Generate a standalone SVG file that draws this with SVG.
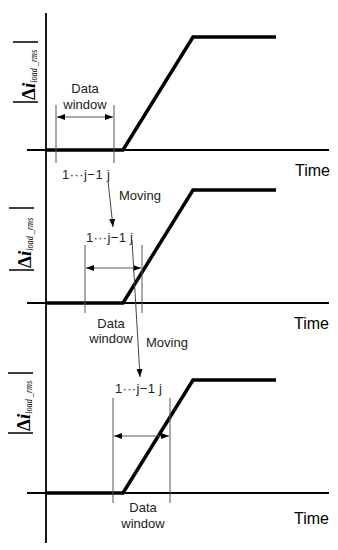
<svg xmlns="http://www.w3.org/2000/svg" width="338" height="550" viewBox="0 0 338 550">
<style>
.bg{fill:#fff}
.axis{stroke:#000;stroke-width:1.8;fill:none}
.sig{stroke:#000;stroke-width:3.5;fill:none;stroke-linejoin:miter}
.win{stroke:#555;stroke-width:1;fill:none}
.dim{stroke:#555;stroke-width:1;fill:none;marker-start:url(#ah);marker-end:url(#ah)}
.mv{stroke:#444;stroke-width:1;fill:none;marker-end:url(#ah)}
.lbl{font-family:"Liberation Sans",Arial,sans-serif;font-size:13px;fill:#222}
.time{font-family:"Liberation Sans",Arial,sans-serif;font-size:16px;fill:#000}
.ylab{font-family:"Liberation Serif","Times New Roman",serif;fill:#000}
.bar{stroke:#000;stroke-width:1.5}
</style>
<defs>
<marker id="ah" markerUnits="userSpaceOnUse" markerWidth="9" markerHeight="7" refX="8" refY="3" orient="auto-start-reverse">
<path d="M0,0 L8,3 L0,6 z" fill="#000"/>
</marker>
</defs>
<rect class="bg" width="338" height="550"/>
<g id="y-axis">
<line class="axis" x1="46" y1="13" x2="46" y2="543"/>
</g>
<g id="panel1">
<line class="axis" x1="27" y1="150" x2="329" y2="150"/>
<polyline class="sig" points="46,150 123,150 193,37 276,37"/>
<text class="time" x="295" y="176">Time</text>
<g transform="translate(35,102) rotate(-90)">
<line class="bar" x1="0" y1="-22" x2="0" y2="3"/>
<line class="bar" x1="60" y1="-22" x2="60" y2="3"/>
<text class="ylab" x="2" y="0"><tspan font-size="19" font-weight="bold">Δ</tspan><tspan font-size="19" font-weight="bold" font-style="italic">i</tspan><tspan font-size="10" font-style="italic" dy="2" textLength="33" lengthAdjust="spacingAndGlyphs">load _rms</tspan></text>
</g>
</g>
<g id="window1">
<line class="win" x1="56" y1="105" x2="56" y2="163"/>
<line class="win" x1="114" y1="105" x2="114" y2="163"/>
<line class="dim" x1="57" y1="117" x2="113" y2="117"/>
<text class="lbl" x="85" y="93" text-anchor="middle">Data</text>
<text class="lbl" x="85" y="109" text-anchor="middle">window</text>
<text class="lbl" x="62" y="179" textLength="48">1···j−1 j</text>
</g>
<g id="panel2">
<line class="axis" x1="27" y1="303" x2="329" y2="303"/>
<polyline class="sig" points="46,303 123,303 193,190 276,190"/>
<text class="time" x="294" y="329">Time</text>
<g transform="translate(31,270) rotate(-90)">
<line class="bar" x1="0" y1="-22" x2="0" y2="3"/>
<line class="bar" x1="62" y1="-22" x2="62" y2="3"/>
<text class="ylab" x="2" y="0"><tspan font-size="19" font-weight="bold">Δ</tspan><tspan font-size="19" font-weight="bold" font-style="italic">i</tspan><tspan font-size="10" font-style="italic" dy="2" textLength="33" lengthAdjust="spacingAndGlyphs">load _rms</tspan></text>
</g>
</g>
<g id="window2">
<line class="win" x1="85" y1="245" x2="85" y2="313"/>
<line class="win" x1="142" y1="245" x2="142" y2="313"/>
<line class="dim" x1="86" y1="268" x2="141" y2="268"/>
<text class="lbl" x="111" y="328" text-anchor="middle">Data</text>
<text class="lbl" x="111" y="343" text-anchor="middle">window</text>
<text class="lbl" x="86" y="242" textLength="47">1···j−1 j</text>
</g>
<g id="panel3">
<line class="axis" x1="27" y1="493" x2="329" y2="493"/>
<polyline class="sig" points="46,493 123,493 193,380 276,380"/>
<text class="time" x="294" y="524">Time</text>
<g transform="translate(30,433) rotate(-90)">
<line class="bar" x1="0" y1="-22" x2="0" y2="3"/>
<line class="bar" x1="60" y1="-22" x2="60" y2="3"/>
<text class="ylab" x="2" y="0"><tspan font-size="19" font-weight="bold">Δ</tspan><tspan font-size="19" font-weight="bold" font-style="italic">i</tspan><tspan font-size="10" font-style="italic" dy="2" textLength="33" lengthAdjust="spacingAndGlyphs">load _rms</tspan></text>
</g>
</g>
<g id="window3">
<line class="win" x1="113" y1="398" x2="113" y2="503"/>
<line class="win" x1="170" y1="398" x2="170" y2="503"/>
<line class="dim" x1="114" y1="436" x2="169" y2="436"/>
<text class="lbl" x="143" y="512" text-anchor="middle">Data</text>
<text class="lbl" x="143" y="528" text-anchor="middle">window</text>
<text class="lbl" x="115" y="393" textLength="47">1···j−1 j</text>
</g>
<g id="connectors">
<line class="mv" x1="108" y1="181" x2="113" y2="227"/>
<text class="lbl" x="119" y="200">Moving</text>
<line class="mv" x1="132" y1="240" x2="140" y2="377"/>
<text class="lbl" x="146" y="347">Moving</text>
</g>
</svg>
